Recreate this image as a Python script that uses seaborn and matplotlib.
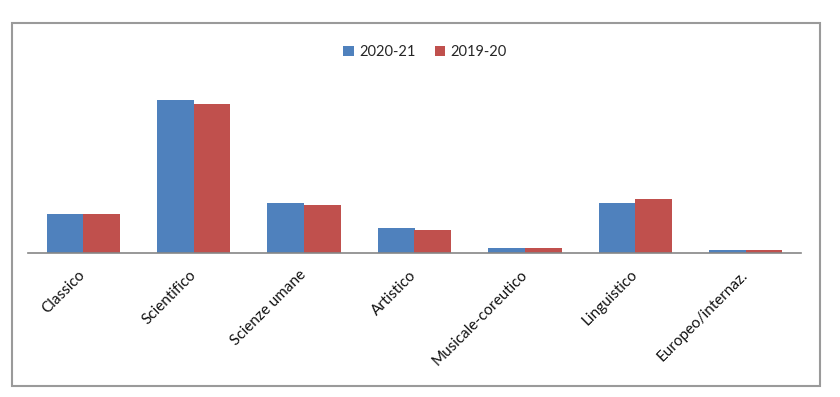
import matplotlib
matplotlib.use("Agg")
from matplotlib import pyplot as plt
from matplotlib.patches import Rectangle
import pandas as pd
import seaborn as sns

# values (share of enrolments, %)
categories = ["Classico", "Scientifico", "Scienze umane", "Artistico",
              "Musicale-coreutico", "Linguistico", "Europeo/internaz."]
years = ["2020-21", "2019-20"]
values_2021 = [6.6, 26.0, 8.6, 4.3, 0.9, 8.6, 0.55]
values_2020 = [6.7, 25.3, 8.2, 3.9, 0.9, 9.2, 0.55]
colors = {"2020-21": "#4F81BD", "2019-20": "#C0504D"}

df = pd.DataFrame({
    "categoria": categories * 2,
    "anno": [years[0]] * len(categories) + [years[1]] * len(categories),
    "valore": values_2021 + values_2020,
})

sns.set_theme(style="white")
plt.rcParams["font.family"] = ["Lato", "DejaVu Sans"]

fig = plt.figure(figsize=(8.4, 3.97), dpi=100)
ax = fig.add_axes([28 / 840, 1 - 253.3 / 397, 773 / 840, 177 / 397])

sns.barplot(data=df, x="categoria", y="valore", hue="anno", hue_order=years,
            palette=colors, width=0.664, saturation=1, ax=ax, linewidth=0)

ax.set_ylim(0, 30)
ax.set_xlim(-0.5, len(categories) - 0.5)
ax.set_xlabel("")
ax.set_ylabel("")
ax.set_yticks([])
for side in ["top", "left", "right"]:
    ax.spines[side].set_visible(False)
ax.spines["bottom"].set_color("#868686")
ax.spines["bottom"].set_linewidth(1.2)
ax.tick_params(axis="x", length=0, pad=14)
for lbl in ax.get_xticklabels():
    lbl.set_rotation(45)
    lbl.set_ha("right")
    lbl.set_va("center")
    lbl.set_rotation_mode("anchor")
    lbl.set_fontsize(11)
    lbl.set_color("#111111")

ax.legend(loc="center", bbox_to_anchor=(425 / 840, 1 - 52 / 397),
          bbox_transform=fig.transFigure, ncol=2, frameon=False,
          handlelength=0.75, handleheight=0.75, handletextpad=0.35,
          columnspacing=1.3, fontsize=10.5)

# outer frame around the chart
fig.patches.append(Rectangle((11.5 / 840, 1 - 385.5 / 397), 808.5 / 840, 363 / 397,
                             transform=fig.transFigure, fill=False,
                             edgecolor="#9a9a9a", linewidth=1.5))

fig.savefig("out.png", dpi=100, facecolor="white")
